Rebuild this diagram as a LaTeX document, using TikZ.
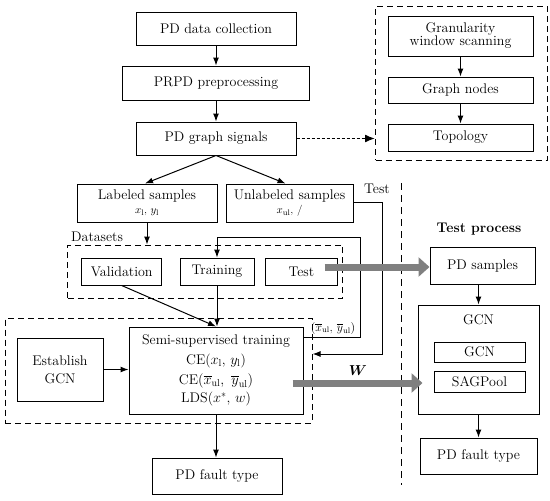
\documentclass[tikz,border=0pt]{standalone}
\usepackage{amsmath,amssymb}
\usepackage{tikz}
\usetikzlibrary{arrows.meta,positioning}
\definecolor{arrowgray}{HTML}{808080}

\begin{document}
\begin{tikzpicture}[x=1pt, y=-1pt,
  font=\fontsize{14}{17}\selectfont,
  box/.style={draw, line width=1pt, align=center, inner sep=2pt},
  dbox/.style={draw, line width=1pt, dash pattern=on 6pt off 4pt},
  arr/.style={-{Latex[length=8pt,width=6pt]}, line width=1pt},
  garr/.style={-{Triangle[length=11pt,width=19pt]}, line width=7pt, arrowgray}
]
  \useasboundingbox (0,0) rectangle (550,501);
  % preparation chain
  \node[box, minimum width=160pt, minimum height=33pt] (collect) at (216,28.5) {PD data collection};
  \node[box, minimum width=187pt, minimum height=34pt, below=20pt of collect] (prpd) {PRPD preprocessing};
  \node[box, minimum width=160pt, minimum height=33pt, below=21pt of prpd] (signals) {PD graph signals};
  \node[dbox, minimum width=171.5pt, minimum height=154pt] (feat) at (461.3,83) {};
  \node[box, minimum width=145pt, minimum height=40pt] (gran) at (460.5,36) {Granularity\\[-4pt] window scanning};
  \node[box, minimum width=145pt, minimum height=26pt, below=20pt of gran] (gnodes) {Graph nodes};
  \node[box, minimum width=145pt, minimum height=27pt, below=20pt of gnodes] (topo) {Topology};
  % samples and datasets
  \node[box, minimum width=140pt, minimum height=38pt] (labeled) at (147,203) {Labeled samples\\[-3pt] {\fontsize{11}{13}\selectfont$x_{\mathrm{l}}$, $y_{\mathrm{l}}$}};
  \node[box, minimum width=127pt, minimum height=38pt] (unlabeled) at (289.5,203) {Unlabeled samples\\[-3pt] {\fontsize{11}{13}\selectfont$x_{\mathrm{ul}}$, /}};
  \node[dbox, minimum width=275pt, minimum height=53pt] (data) at (205.4,271.5) {};
  \node[anchor=west, inner sep=0pt] (datalabel) at (71,237) {Datasets};
  \node[box, minimum width=80pt, minimum height=27pt] (valid) at (121.7,271.5) {Validation};
  \node[box, minimum width=74pt, minimum height=27pt] (train) at (217,271.5) {Training};
  \node[box, minimum width=71.5pt, minimum height=27pt] (testb) at (301.3,271.5) {Test};
  % training
  \node[dbox, minimum width=306.7pt, minimum height=105pt] (lower) at (158.7,370.5) {};
  \node[box, minimum width=174pt, minimum height=87pt] (semi) at (216,370.5) {Semi-supervised training\\[3pt] CE($x_{\mathrm{l}}$, $y_{\mathrm{l}}$)\\[3pt] CE$\left(\overline{x}_{\mathrm{ul}},\ \overline{y}_{\mathrm{ul}}\right)$\\[1pt] LDS($x^{*}$, $w$)};
  \node[box, minimum width=86pt, minimum height=63pt] (establish) at (60,369.5) {Establish\\[1pt] GCN};
  \node[box, minimum width=130pt, minimum height=36pt] (faultl) at (217,476) {PD fault type};
  % test process
  \node (testproc) at (479,229) {\bfseries Test process};
  \node[box, minimum width=105pt, minimum height=37pt] (pdsamp) at (482.5,265.5) {PD samples};
  \node[box, minimum width=121pt, minimum height=109pt] (gcnbig) at (478.5,359.5) {};
  \node (gcnlab) at (478.5,320) {GCN};
  \node[box, minimum width=91pt, minimum height=20pt] (gcnin) at (479.5,352) {GCN};
  \node[box, minimum width=91pt, minimum height=21pt] (sag) at (479.5,381.5) {SAGPool};
  \node[box, minimum width=117pt, minimum height=36pt] (faultr) at (478.5,456) {PD fault type};
  % labels
  \node (testlab) at (377,189) {Test};
  \node (wlab) at (358,371) {$\boldsymbol{W}$};
  \node[font=\fontsize{12}{14}\selectfont] (xylab) at (333,328) {$\left(\overline{x}_{\mathrm{ul}},\,\overline{y}_{\mathrm{ul}}\right)$};
  \coordinate (sepa) at (401,183);
  \coordinate (sepb) at (401,485);
  \coordinate (testturn) at (382,354);
  \coordinate (loop) at (360,237);
  \draw[line width=1pt, dash pattern=on 7pt off 5pt] (sepa) -- (sepb);
  % connectors
  \draw[arr] (collect) -- (prpd);
  \draw[arr] (prpd) -- (signals);
  \draw[arr] (gran) -- (gnodes);
  \draw[arr] (gnodes) -- (topo);
  \draw[-{Latex[length=10pt,width=8pt]}, line width=1.6pt, dash pattern=on 3pt off 2pt] (signals.east) -- (signals.east -| feat.west);
  \draw[arr] (signals.south) -- ([xshift=-2pt]labeled.north);
  \draw[arr] (signals.south) -- ([xshift=-4pt]unlabeled.north);
  \draw[arr] (labeled.south) -- (labeled.south |- data.north);
  \draw[arr] ([yshift=1pt]unlabeled.east) -| (testturn) -- (testturn -| lower.east);
  \draw[arr] ([yshift=-11pt]semi.north east) -| (loop) -| (train.north);
  \draw[arr] (valid.south) -- (semi.north);
  \draw[arr] (train.south) -- (train.south |- semi.north);
  \draw[arr] (establish.east) -- (establish.east -| semi.west);
  \draw[arr] (semi.south) -- (semi.south |- faultl.north);
  \draw[arr] (gcnbig.north |- pdsamp.south) -- (gcnbig.north);
  \draw[arr] (gcnbig) -- (faultr);
  \draw[garr] ([xshift=-13pt,yshift=-1.5pt]testb.east |- pdsamp.west) -- ([yshift=-1.5pt]pdsamp.west);
  \draw[garr] ([xshift=-11pt,yshift=-12.5pt]semi.east) -- ([xshift=5pt,yshift=-12.5pt]semi.east -| gcnbig.west);
\end{tikzpicture}
\end{document}
